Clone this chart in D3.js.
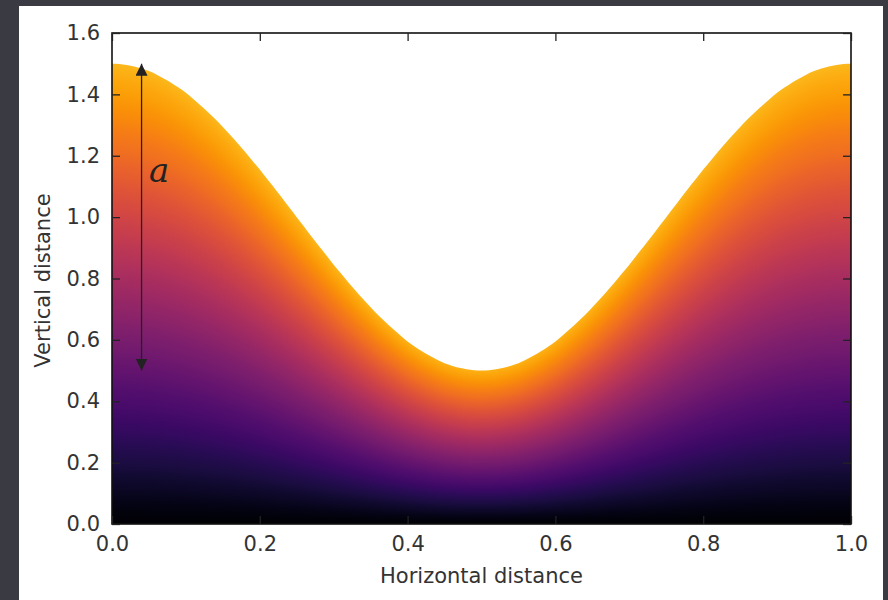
<!DOCTYPE html>
<html>
<head>
<meta charset="utf-8">
<script src="https://cdn.jsdelivr.net/npm/d3@7"></script>
<style>
  html, body { margin: 0; padding: 0; background: #3a3a42; }
  svg { display: block; }
</style>
</head>
<body>
<svg id="chart" width="888" height="600"></svg>
<script>
// ---- data ----
const horizontal = d3.range(0, 101).map(k => k / 100); // 0.00 .. 1.00 step 0.01
const vertical = [
  1.500, 1.499, 1.496, 1.491, 1.484, 1.476, 1.465, 1.452, 1.438, 1.422,
  1.405, 1.385, 1.364, 1.342, 1.319, 1.294, 1.268, 1.241, 1.213, 1.184,
  1.155, 1.124, 1.094, 1.063, 1.031, 1.000, 0.969, 0.937, 0.906, 0.876,
  0.845, 0.816, 0.787, 0.759, 0.732, 0.706, 0.681, 0.658, 0.636, 0.615,
  0.595, 0.578, 0.562, 0.548, 0.535, 0.524, 0.516, 0.509, 0.504, 0.501,
  0.500,
  0.501, 0.504, 0.509, 0.516, 0.524, 0.535, 0.548, 0.562, 0.578, 0.595,
  0.615, 0.636, 0.658, 0.681, 0.706, 0.732, 0.759, 0.787, 0.816, 0.845,
  0.876, 0.906, 0.937, 0.969, 1.000, 1.031, 1.063, 1.094, 1.124, 1.155,
  1.184, 1.213, 1.241, 1.268, 1.294, 1.319, 1.342, 1.364, 1.385, 1.405,
  1.422, 1.438, 1.452, 1.465, 1.476, 1.484, 1.491, 1.496, 1.499, 1.500
];
const xTicks = [0.0, 0.2, 0.4, 0.6, 0.8, 1.0];
const yTicks = [0.0, 0.2, 0.4, 0.6, 0.8, 1.0, 1.2, 1.4, 1.6];
const arrowX = 0.04;
const arrowRange = [0.5, 1.5];
const amplitudeLabel = "a";
const amplitudeLabelPos = [0.05, 1.115];
const xLabel = "Horizontal distance";
const yLabel = "Vertical distance";

// ---- layout ----
const svg = d3.select("#chart");
const plot = { left: 112, right: 851, top: 33, bottom: 524 };
const x = d3.scaleLinear().domain([0, 1]).range([plot.left, plot.right]);
const y = d3.scaleLinear().domain([0, 1.6]).range([plot.bottom, plot.top]);
const font = "'DejaVu Sans', sans-serif";

// white card
svg.append("rect").attr("x", 19).attr("y", 6).attr("width", 864).attr("height", 600)
  .attr("fill", "#ffffff");

const defs = svg.append("defs");

// per-column vertical gradient (inferno colormap)
const grad = defs.append("linearGradient").attr("id", "inf")
  .attr("x1", 0).attr("y1", 1).attr("x2", 0).attr("y2", 0);
d3.range(0, 41).forEach(i => {
  const t = i / 40;
  grad.append("stop").attr("offset", t).attr("stop-color", d3.interpolateInferno(t * 0.845));
});

const pts = horizontal.map((h, i) => [h, vertical[i]]);
const area = d3.area().x(d => x(d[0])).y0(y(0) + 1).y1(d => y(d[1])).curve(d3.curveMonotoneX);

// antialiased mask of the curve shape
defs.append("mask").attr("id", "curveMask")
  .attr("maskUnits", "userSpaceOnUse")
  .attr("x", 0).attr("y", 0).attr("width", 888).attr("height", 600)
  .append("path").attr("d", area(pts)).attr("fill", "#fff");

// one-pixel columns, each gradient spanning from 0 to the local curve height
const heightAt = xv => {
  const i = Math.min(pts.length - 2, Math.max(0, d3.bisectRight(horizontal, xv) - 1));
  const t = (xv - pts[i][0]) / (pts[i + 1][0] - pts[i][0]);
  return d3.interpolateNumber(pts[i][1], pts[i + 1][1])(Math.max(0, Math.min(1, t)));
};
const cols = svg.append("g").attr("mask", "url(#curveMask)");
const px0 = Math.floor(plot.left), px1 = Math.ceil(plot.right);
for (let px = px0; px < px1; px++) {
  const xv = x.invert(px + 0.5);
  const top = heightAt(Math.max(0, Math.min(1, xv))) + 0.012;
  cols.append("rect")
    .attr("x", px).attr("width", 1)
    .attr("y", y(top))
    .attr("height", y(0) - y(top))
    .attr("shape-rendering", "crispEdges")
    .attr("fill", "url(#inf)");
}

// arrow markers
const mk = (id, orient) => {
  defs.append("marker").attr("id", id)
    .attr("viewBox", "0 0 12 12").attr("refX", 12).attr("refY", 6)
    .attr("markerWidth", 12).attr("markerHeight", 12)
    .attr("markerUnits", "userSpaceOnUse")
    .attr("orient", orient)
    .append("path").attr("d", "M0,0 L12,6 L0,12 Z").attr("fill", "#222");
};
mk("arrEnd", "auto");
mk("arrStart", "auto-start-reverse");

svg.append("line")
  .attr("x1", x(arrowX)).attr("x2", x(arrowX))
  .attr("y1", y(arrowRange[0])).attr("y2", y(arrowRange[1]))
  .attr("stroke", "#222").attr("stroke-width", 1.3)
  .attr("marker-start", "url(#arrStart)")
  .attr("marker-end", "url(#arrEnd)");

svg.append("text")
  .attr("x", x(amplitudeLabelPos[0])).attr("y", y(amplitudeLabelPos[1]))
  .attr("font-family", "'DejaVu Serif', serif").attr("font-style", "italic")
  .attr("font-size", 34).attr("fill", "#222").text(amplitudeLabel);

// frame
svg.append("rect")
  .attr("x", plot.left).attr("y", plot.top)
  .attr("width", plot.right - plot.left).attr("height", plot.bottom - plot.top)
  .attr("fill", "none").attr("stroke", "#111").attr("stroke-width", 1.6);

// axes with inward ticks
const tickLen = 8;
const axB = svg.append("g").attr("transform", `translate(0,${plot.bottom})`)
  .call(d3.axisBottom(x).tickValues(xTicks).tickFormat(d3.format(".1f"))
    .tickSizeInner(-tickLen).tickSizeOuter(0).tickPadding(12));
const axT = svg.append("g").attr("transform", `translate(0,${plot.top})`)
  .call(d3.axisTop(x).tickValues(xTicks).tickFormat("").tickSizeInner(-tickLen).tickSizeOuter(0));
const axL = svg.append("g").attr("transform", `translate(${plot.left},0)`)
  .call(d3.axisLeft(y).tickValues(yTicks).tickFormat(d3.format(".1f"))
    .tickSizeInner(-tickLen).tickSizeOuter(0).tickPadding(12));
const axR = svg.append("g").attr("transform", `translate(${plot.right},0)`)
  .call(d3.axisRight(y).tickValues(yTicks).tickFormat("").tickSizeInner(-tickLen).tickSizeOuter(0));

[axB, axT, axL, axR].forEach(g => {
  g.select(".domain").remove();
  g.selectAll(".tick line").attr("stroke", "#222").attr("stroke-width", 1.3);
  g.selectAll(".tick text").attr("font-family", font).attr("font-size", 21).attr("fill", "#333");
});

// axis labels
svg.append("text").attr("x", (plot.left + plot.right) / 2).attr("y", 583)
  .attr("text-anchor", "middle").attr("font-family", font).attr("font-size", 21)
  .attr("fill", "#333").text(xLabel);
svg.append("text")
  .attr("transform", `translate(50,${(plot.top + plot.bottom) / 2 + 2}) rotate(-90)`)
  .attr("text-anchor", "middle").attr("font-family", font).attr("font-size", 21)
  .attr("fill", "#333").text(yLabel);
</script>
</body>
</html>
